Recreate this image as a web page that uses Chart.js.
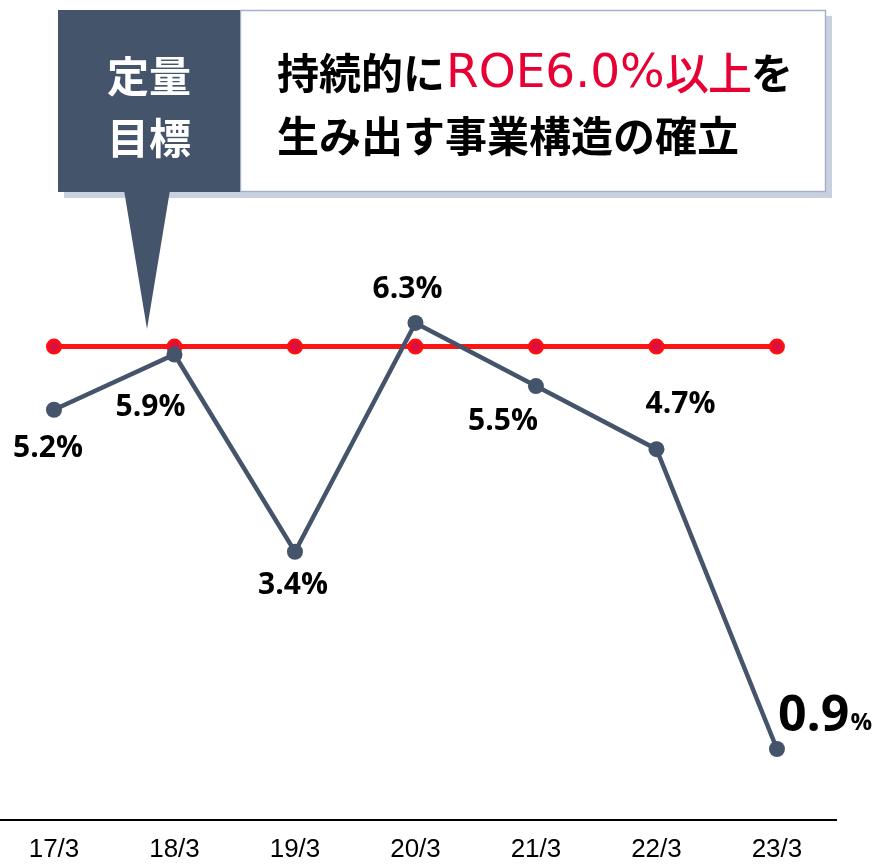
<!DOCTYPE html>
<html>
<head>
<meta charset="utf-8">
<script src="https://cdn.jsdelivr.net/npm/chart.js@4"></script>
<style>
  html, body { margin: 0; padding: 0; background: #fff; }
  #wrap { width: 884px; height: 864px; }
</style>
</head>
<body>
<div id="wrap"><canvas id="roeChart"></canvas></div>
<script>
// data
const years = ['17/3', '18/3', '19/3', '20/3', '21/3', '22/3', '23/3'];
const roeValues = [5.2, 5.9, 3.4, 6.3, 5.5, 4.7, 0.9];
const targetValues = [6.0, 6.0, 6.0, 6.0, 6.0, 6.0, 6.0];
const targetTitle = ['定量', '目標'];
const targetText1 = ['持続的に', 'ROE6.0%', '以上', 'を'];
const targetText2 = '生み出す事業構造の確立';

const slate = '#44546A';
const red = '#E60033';
const jpFont = '"Noto Sans CJK JP", "Noto Sans", sans-serif';
const numFont = '"Open Sans", "Noto Sans", sans-serif';

// label offsets relative to each point
const labelOffsets = [[-6, 39], [-24, 53], [-2, 34], [-8, -33], [-33, 35], [24, -45], [0, 0]];

const calloutPlugin = {
  id: 'callout',
  beforeDraw(chart) {
    const ctx = chart.ctx;
    ctx.save();
    // shadow
    ctx.fillStyle = '#C9D1E0';
    ctx.fillRect(64, 16, 768, 182);
    // pointer
    ctx.fillStyle = slate;
    ctx.beginPath();
    ctx.moveTo(124, 190);
    ctx.lineTo(170, 190);
    ctx.lineTo(147, 329);
    ctx.closePath();
    ctx.fill();
    // white box
    ctx.fillStyle = '#fff';
    ctx.fillRect(240, 10, 586, 182);
    ctx.strokeStyle = '#A7B0CB';
    ctx.lineWidth = 1.5;
    ctx.strokeRect(240.5, 10.5, 585, 181);
    // dark box
    ctx.fillStyle = slate;
    ctx.fillRect(58, 10, 182, 182);

    ctx.textBaseline = 'middle';
    ctx.font = 'bold 42px ' + jpFont;
    ctx.fillStyle = '#fff';
    ctx.textAlign = 'center';
    ctx.fillText(targetTitle[0], 149, 76);
    ctx.fillText(targetTitle[1], 149, 138);

    // first line: black / red latin / red kanji / black
    ctx.textAlign = 'left';
    ctx.fillStyle = '#000';
    ctx.font = 'bold 42px ' + jpFont;
    ctx.fillText(targetText1[0], 277, 73);
    ctx.fillStyle = red;
    ctx.font = '47px "DejaVu Sans", sans-serif';
    ctx.fillText(targetText1[1], 446, 75);
    ctx.font = '500 44px ' + jpFont;
    const kanji = Array.from(targetText1[2]);
    ctx.fillText(kanji[0], 665, 73);
    ctx.fillText(kanji[1], 708, 73);
    ctx.fillStyle = '#000';
    ctx.font = 'bold 42px ' + jpFont;
    ctx.fillText(targetText1[3], 751, 73);

    ctx.fillText(targetText2, 277, 136);
    ctx.restore();
  }
};

const labelPlugin = {
  id: 'pointLabels',
  afterDatasetsDraw(chart) {
    const ctx = chart.ctx;
    const meta = chart.getDatasetMeta(0);
    ctx.save();
    ctx.fillStyle = '#000';
    ctx.textBaseline = 'middle';
    meta.data.forEach((pt, i) => {
      const txt = roeValues[i].toFixed(1);
      if (i === roeValues.length - 1) {
        ctx.textAlign = 'left';
        ctx.font = 'bold 50px ' + numFont;
        ctx.fillText(txt, pt.x + 1, pt.y - 32);
        const w = ctx.measureText(txt).width;
        ctx.font = 'bold 24px ' + numFont;
        ctx.fillText('%', pt.x + 2 + w, pt.y - 26);
      } else {
        ctx.textAlign = 'center';
        ctx.font = 'bold 30px ' + numFont;
        ctx.fillText(txt + '%', pt.x + labelOffsets[i][0], pt.y + labelOffsets[i][1]);
      }
    });
    ctx.restore();
  }
};

const ctx = document.getElementById('roeChart').getContext('2d');
const myChart = new Chart(ctx, {
  type: 'line',
  data: {
    labels: years,
    datasets: [{
      label: 'ROE',
      data: roeValues.map((v, i) => ({ x: i, y: v })),
      borderColor: slate,
      backgroundColor: slate,
      borderWidth: 4.5,
      pointRadius: 8,
      pointBorderWidth: 0,
      order: 0
    }, {
      label: 'Target',
      data: targetValues.map((v, i) => ({ x: i, y: v })),
      borderColor: '#FF1414',
      backgroundColor: '#DC1040',
      borderWidth: 5,
      pointRadius: 6.5,
      pointBorderColor: '#FF1010',
      pointBorderWidth: 3,
      order: 1
    }]
  },
  options: {
    responsive: true,
    maintainAspectRatio: false,
    animation: false,
    layout: { autoPadding: false, padding: { top: 31, right: 48, left: 0, bottom: 0 } },
    plugins: {
      legend: { display: false },
      tooltip: { enabled: false }
    },
    scales: {
      x: {
        type: 'linear',
        min: -0.448,
        max: 6.49,
        afterBuildTicks: (scale) => {
          scale.ticks = years.map((_, i) => ({ value: i }));
        },
        afterFit: (scale) => { scale.height = 44; },
        grid: { display: false, drawTicks: false },
        border: { display: true, color: '#000', width: 2 },
        ticks: {
          padding: 14,
          color: '#000',
          maxRotation: 0,
          font: { family: '"Liberation Sans", Arial, sans-serif', size: 26 },
          callback: (v) => years[v]
        }
      },
      y: {
        display: false,
        min: 0,
        max: 10
      }
    }
  },
  plugins: [calloutPlugin, labelPlugin]
});
</script>
</body>
</html>
